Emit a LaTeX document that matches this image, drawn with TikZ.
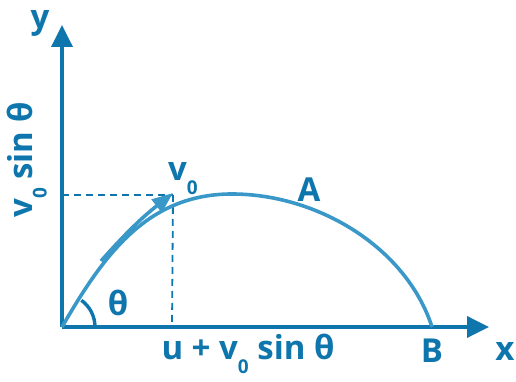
\documentclass[tikz,border=0pt]{standalone}
\usepackage{fontspec}
\setmainfont{Open Sans}
\usepackage{tikz}
\usetikzlibrary{arrows.meta,positioning,calc}
\definecolor{axisblue}{RGB}{14,118,172}
\definecolor{pathblue}{RGB}{58,152,200}
\newcommand{\lowzero}{\raisebox{-0.42em}{\fontsize{19}{19}\selectfont 0}}

\begin{document}
\begin{tikzpicture}[x=1pt, y=1pt,
    axis/.style={draw=axisblue, line width=3.6pt, -{Triangle[length=22pt, width=21pt]}},
    traj/.style={draw=pathblue, line width=3.6pt},
    guide/.style={draw=axisblue, line width=1.8pt, dash pattern=on 7pt off 5pt},
    lbl/.style={text=axisblue, font=\fontsize{33}{38}\selectfont\bfseries, inner sep=0pt},
]
\useasboundingbox (0,0) rectangle (516,382);
\coordinate (O) at (62,55);
\coordinate (ytip) at (62,357);
\coordinate (xtip) at (489,55);
\coordinate (top) at (232,188);
\coordinate (B0) at (432,55);
\coordinate (foot) at (172,55);
\coordinate (lev) at (62,187);
\coordinate (vstart) at (101,121);
\coordinate (vtip) at (173,189);

% axes
\draw[axis] (O) -- (ytip);
\draw[axis] (O) -- (xtip);

% projections
\draw[guide] (lev) -- (vtip |- lev);
\draw[guide] (vtip |- lev) -- (foot);

% trajectory
\draw[traj] (O) to[out=60, in=180, looseness=1.0] (top)
    to[out=0, in=108, looseness=0.9] (B0);
\draw[pathblue, line width=3.6pt, -{Triangle[length=21pt, width=16pt]}]
    (vstart) to[bend left=5] (vtip);

% angle
\draw[axisblue, line width=3.4pt] ($(O)+(33,0)$) arc[start angle=0, end angle=54, radius=33];

% labels
\node[lbl] (ylab) at (40,359) {y};
\node[lbl] (xlab) at (505,31) {x};
\node[lbl] (Blab) at (432,31) {B};
\node[lbl] (Alab) at (309,192) {A};
\node[lbl] (vlab) at (183,203) {v\lowzero};
\node[lbl] (thlab) at (118,79) {θ};
\node[lbl] (hlab) at (248,28) {u + v\lowzero\ sin θ};
\node[lbl, rotate=90] (vlab2) at (27,222) {v\lowzero\ sin θ};
\end{tikzpicture}
\end{document}
